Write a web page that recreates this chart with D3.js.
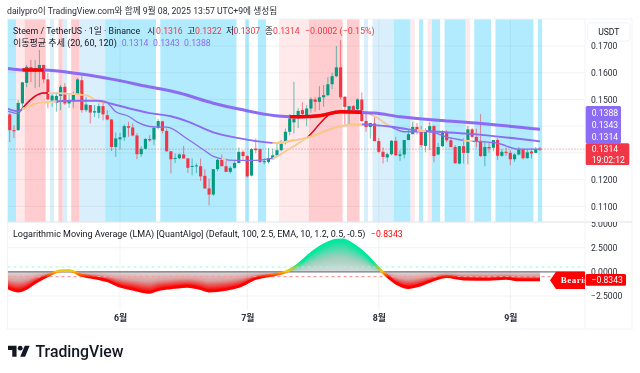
<!DOCTYPE html>
<html>
<head>
<meta charset="utf-8">
<script src="https://cdn.jsdelivr.net/npm/d3@7"></script>
<style>
  html, body { margin: 0; padding: 0; background: #fff; }
  svg { display: block; filter: blur(0.3px); }
  text { font-family: Roboto, "Noto Sans CJK KR", sans-serif; fill: #131722; }
  .axis text { font-size: 8.6px; fill: #2a2e39; }
</style>
</head>
<body>
<div id="chart"></div>
<script>
// daily candles, 6 May to 8 Sep 2025 (index 0 = 6 May)
const opens = [0.1444,0.1385,0.1385,0.1485,0.1562,0.1621,0.1603,0.1610,0.1629,0.1575,
  0.1491,0.1487,0.1513,0.1547,0.1485,0.1495,0.1520,0.1572,0.1460,0.1479,
  0.1451,0.1450,0.1475,0.1441,0.1425,0.1322,0.1351,0.1358,0.1400,0.1395,
  0.1365,0.1295,0.1315,0.1352,0.1350,0.1394,0.1418,0.1382,0.1306,0.1280,
  0.1280,0.1294,0.1279,0.1250,0.1251,0.1250,0.1214,0.1167,0.1144,0.1239,
  0.1274,0.1250,0.1229,0.1244,0.1262,0.1304,0.1288,0.1215,0.1316,0.1314,
  0.1265,0.1266,0.1276,0.1291,0.1310,0.1341,0.1379,0.1414,0.1429,0.1460,
  0.1433,0.1466,0.1500,0.1491,0.1508,0.1516,0.1557,0.1587,0.1620,0.1510,
  0.1450,0.1475,0.1463,0.1500,0.1419,0.1397,0.1410,0.1344,0.1304,0.1283,
  0.1295,0.1345,0.1289,0.1294,0.1348,0.1370,0.1397,0.1379,0.1326,0.1379,
  0.1400,0.1294,0.1325,0.1374,0.1347,0.1322,0.1260,0.1325,0.1300,0.1388,
  0.1360,0.1345,0.1288,0.1322,0.1319,0.1348,0.1289,0.1304,0.1300,0.1276,
  0.1294,0.1313,0.1280,0.1305,0.1300,0.1316];
const highs = [0.1449,0.1404,0.1498,0.1565,0.1629,0.1648,0.1648,0.1685,0.1629,0.1599,
  0.1524,0.1528,0.1554,0.1561,0.1524,0.1529,0.1580,0.1598,0.1510,0.1479,
  0.1479,0.1485,0.1491,0.1460,0.1426,0.1376,0.1375,0.1407,0.1416,0.1410,
  0.1373,0.1325,0.1355,0.1366,0.1400,0.1426,0.1420,0.1391,0.1306,0.1298,
  0.1298,0.1326,0.1281,0.1280,0.1261,0.1279,0.1239,0.1204,0.1239,0.1279,
  0.1294,0.1279,0.1250,0.1268,0.1320,0.1310,0.1291,0.1318,0.1354,0.1316,
  0.1280,0.1318,0.1316,0.1341,0.1348,0.1391,0.1445,0.1566,0.1467,0.1489,
  0.1479,0.1508,0.1508,0.1550,0.1554,0.1583,0.1600,0.1700,0.1722,0.1512,
  0.1475,0.1479,0.1505,0.1526,0.1454,0.1412,0.1434,0.1356,0.1320,0.1300,
  0.1348,0.1360,0.1310,0.1348,0.1388,0.1416,0.1412,0.1400,0.1393,0.1415,
  0.1404,0.1337,0.1385,0.1385,0.1359,0.1329,0.1325,0.1355,0.1400,0.1394,
  0.1391,0.1445,0.1345,0.1341,0.1348,0.1354,0.1314,0.1320,0.1310,0.1298,
  0.1322,0.1316,0.1313,0.1316,0.1322,0.1322];
const lows = [0.1340,0.1355,0.1383,0.1460,0.1546,0.1565,0.1542,0.1546,0.1561,0.1467,
  0.1472,0.1454,0.1460,0.1479,0.1467,0.1467,0.1520,0.1450,0.1453,0.1410,
  0.1434,0.1429,0.1422,0.1422,0.1307,0.1285,0.1313,0.1345,0.1360,0.1362,
  0.1276,0.1285,0.1313,0.1341,0.1329,0.1388,0.1373,0.1304,0.1223,0.1262,
  0.1276,0.1279,0.1225,0.1216,0.1224,0.1195,0.1166,0.1104,0.1139,0.1231,
  0.1250,0.1229,0.1223,0.1241,0.1262,0.1273,0.1208,0.1212,0.1298,0.1262,
  0.1257,0.1260,0.1276,0.1288,0.1306,0.1332,0.1366,0.1373,0.1393,0.1429,
  0.1400,0.1450,0.1454,0.1460,0.1472,0.1512,0.1538,0.1583,0.1500,0.1407,
  0.1407,0.1445,0.1460,0.1416,0.1379,0.1354,0.1344,0.1300,0.1260,0.1266,
  0.1291,0.1288,0.1270,0.1279,0.1348,0.1370,0.1369,0.1321,0.1302,0.1310,
  0.1265,0.1291,0.1321,0.1340,0.1321,0.1260,0.1257,0.1260,0.1257,0.1356,
  0.1320,0.1285,0.1250,0.1301,0.1306,0.1273,0.1285,0.1289,0.1254,0.1266,
  0.1291,0.1275,0.1279,0.1279,0.1298,0.1307];
const closes = [0.1385,0.1381,0.1487,0.1564,0.1622,0.1606,0.1617,0.1629,0.1575,0.1500,
  0.1514,0.1513,0.1547,0.1485,0.1495,0.1520,0.1575,0.1460,0.1481,0.1451,
  0.1456,0.1475,0.1444,0.1425,0.1322,0.1354,0.1358,0.1400,0.1394,0.1365,
  0.1295,0.1315,0.1352,0.1347,0.1394,0.1419,0.1382,0.1306,0.1276,0.1281,
  0.1294,0.1279,0.1244,0.1251,0.1253,0.1212,0.1167,0.1144,0.1239,0.1274,
  0.1250,0.1229,0.1244,0.1262,0.1304,0.1288,0.1212,0.1314,0.1310,0.1266,
  0.1269,0.1279,0.1291,0.1310,0.1341,0.1379,0.1429,0.1428,0.1457,0.1445,
  0.1466,0.1501,0.1491,0.1508,0.1516,0.1557,0.1587,0.1620,0.1508,0.1472,
  0.1475,0.1460,0.1500,0.1419,0.1397,0.1412,0.1344,0.1304,0.1285,0.1295,
  0.1345,0.1291,0.1294,0.1348,0.1370,0.1397,0.1379,0.1329,0.1385,0.1400,
  0.1288,0.1322,0.1375,0.1347,0.1322,0.1261,0.1325,0.1300,0.1388,0.1360,
  0.1344,0.1288,0.1322,0.1317,0.1348,0.1289,0.1304,0.1300,0.1276,0.1294,
  0.1313,0.1280,0.1302,0.1298,0.1314,0.1314];

// moving averages at these day indexes
const ma120Days = [-0.5,4,8,16,24,32,40,48,54,64,68.5,73,78,82,86,92,101,111,125];
const ma120Vals = [0.1616,0.1610,0.1610,0.1597,0.1576,0.1550,0.1524,0.1486,0.1464,0.1437,0.1435,0.1439,0.1454,0.1452,0.1449,0.1435,0.1422,0.1410,0.1388];
const ma60Days = [-0.5,2,3,6,9,16,21,24,28,33,38,42,48,54,63,67,70,77,82,86,90,94,99,108,125];
const ma60Vals = [0.1466,0.1456,0.1464,0.1483,0.1490,0.1495,0.1495,0.1484,0.1467,0.1449,0.1437,0.1417,0.1377,0.1355,0.1337,0.1347,0.1356,0.1396,0.1407,0.1404,0.1398,0.1388,0.1381,0.1372,0.1343];
const ma20Days = [-0.5,2,3,8,13,18,21,23,25,28,30,34,37,42,46,48,53,58,62,65,67,70,76,79,83,86,90,93,99,103,107,115,120,125];
const ma20Vals = [0.1456,0.1447,0.1467,0.1524,0.1522,0.1516,0.1492,0.1486,0.1454,0.1437,0.1416,0.1397,0.1396,0.1351,0.1308,0.1287,0.1272,0.1272,0.1280,0.1306,0.1325,0.1356,0.1449,0.1456,0.1456,0.1437,0.1396,0.1379,0.1379,0.1359,0.1347,0.1336,0.1314,0.1314];
// day spans where a line changes colour
const ma120Red = [[3,8],[66,83]];
const ma60Orange = [[3,11],[62,83],[96,98]];
const ma20Orange = [[9,23],[50,51],[62,70],[83,90],[107,109]];
const ma20Red = [[3,9],[70,83]];

// background state of each run of days: b blue, l pale blue, p pink, s pale pink, w white
const bandKinds = ["b","s","p","w","l","w","p","l","w","p","l","b","w","b","w","b","w","b","w","s","p","w","p","w","l","w","l","b","s","w","b","w","s","b","w","b","s","w","b","w","b","w","b"];
const bandDays = [2,2,5,1,1,1,1,1,1,2,6,12,1,18,2,1,2,2,3,7,8,1,3,1,1,1,5,4,1,1,1,1,1,2,1,5,1,1,4,1,9,1,1];
const bandColors = { b: "#b2ebfd", l: "#d9effc", p: "#ffcdd0", s: "#ffe9eb", w: "#ffffff" };

// LMA oscillator
const lmaDays = [-0.5,2,4,6,9,12,14,17,21,23,26,29,33,35,38,42,45,47,51,54,58,62,65,68,71,74,77,78.5,81,84,87,88,91,94,96,99,103,107,113,117,120,125];
const lmaVals = [-1.64,-1.98,-1.70,-1.10,-0.40,0.11,0.12,-0.36,-0.70,-0.92,-1.49,-1.78,-2.12,-1.83,-1.65,-1.49,-1.74,-1.98,-1.81,-1.50,-0.69,-0.33,-0.02,0.76,1.90,2.78,3.27,3.30,2.78,1.74,0.35,-0.07,-1.15,-1.62,-1.46,-0.98,-0.50,-0.74,-0.77,-0.67,-0.84,-0.8343];

const priceTicks = [0.11,0.12,0.15,0.16,0.17];
const priceGrid = [0.11,0.12,0.13,0.14,0.15,0.16,0.17];
const lmaTicks = [-2.5,0,2.5,5];
const monthDays = [26,56,87,118];
const monthLabels = ["6월","7월","8월","9월"];

const W = 640, H = 373;
const paneL = 7.5, paneR = 585, frameR = 632, frameT = 19, split = 222, axisB = 310, frameB = 329;
const RED = "#f23645", GREEN = "#089981", PURPLE = "#8b6cf2", ORANGE = "#ffc681", PURE_RED = "#ff0000";

const svg = d3.select("#chart").append("svg").attr("width", W).attr("height", H);
const defs = svg.append("defs");

const x = d3.scaleLinear().domain([0, 125]).range([9.7, 540]);
const yPrice = d3.scaleLinear().domain([0.11, 0.17]).range([206.3, 46]);
const yLma = d3.scaleLinear().domain([-2.5, 2.5]).range([296, 247.7]);
const step = x(1) - x(0);

defs.append("clipPath").attr("id", "mainClip").append("rect")
  .attr("x", paneL).attr("y", frameT).attr("width", paneR - paneL).attr("height", split - frameT);
defs.append("clipPath").attr("id", "lowClip").append("rect")
  .attr("x", paneL).attr("y", split).attr("width", paneR - paneL).attr("height", axisB - split);
defs.append("clipPath").attr("id", "tickClip").append("rect")
  .attr("x", paneR).attr("y", split).attr("width", 50).attr("height", axisB - split);

const main = svg.append("g").attr("clip-path", "url(#mainClip)");
const low = svg.append("g").attr("clip-path", "url(#lowClip)");

// background bands
let dayAt = 0;
bandKinds.forEach((k, i) => {
  const x0 = x(dayAt - 0.5), x1 = x(dayAt + bandDays[i] - 0.5);
  main.append("rect").attr("x", x0).attr("y", frameT).attr("width", x1 - x0)
    .attr("height", split - frameT).attr("fill", bandColors[k]);
  dayAt += bandDays[i];
});

// grid
const gridCol = "rgba(42,46,57,0.06)";
priceGrid.forEach(p => {
  main.append("line").attr("x1", paneL).attr("x2", paneR).attr("y1", yPrice(p)).attr("y2", yPrice(p)).attr("stroke", gridCol);
});
monthDays.forEach(d => {
  svg.append("line").attr("x1", x(d)).attr("x2", x(d)).attr("y1", frameT).attr("y2", axisB).attr("stroke", gridCol);
});
[-2.5, 2.5].forEach(v => {
  low.append("line").attr("x1", paneL).attr("x2", paneR).attr("y1", yLma(v)).attr("y2", yLma(v)).attr("stroke", "#f0f3fa");
});

// frame and pane separators
svg.append("rect").attr("x", paneL).attr("y", frameT).attr("width", frameR - paneL).attr("height", frameB - frameT)
  .attr("fill", "none").attr("stroke", "#f0f3fa");
svg.append("line").attr("x1", paneL).attr("x2", frameR).attr("y1", split).attr("y2", split).attr("stroke", "#e0e3eb");
svg.append("line").attr("x1", paneR).attr("x2", paneR).attr("y1", frameT).attr("y2", frameB).attr("stroke", "#f0f3fa");

// last price line
main.append("line").attr("x1", paneL).attr("x2", paneR).attr("y1", yPrice(closes[125])).attr("y2", yPrice(closes[125]))
  .attr("stroke", RED).attr("stroke-opacity", 0.7).attr("stroke-dasharray", "1 2");

// candles
const candles = main.append("g");
opens.forEach((o, i) => {
  const c = closes[i], col = c >= o ? GREEN : RED;
  candles.append("line").attr("x1", x(i)).attr("x2", x(i)).attr("y1", yPrice(highs[i])).attr("y2", yPrice(lows[i]))
    .attr("stroke", col).attr("stroke-opacity", 0.6);
  candles.append("rect").attr("x", x(i) - step * 0.37).attr("width", step * 0.74)
    .attr("y", yPrice(Math.max(o, c))).attr("height", Math.max(1, Math.abs(yPrice(o) - yPrice(c)))).attr("fill", col);
});

// moving averages
function maLine(days, vals) {
  return d3.line().x(d => x(days[d])).y(d => yPrice(vals[d])).curve(d3.curveMonotoneX)(d3.range(days.length));
}
let clipId = 0;
function drawMa(days, vals, color, width, spans) {
  const path = maLine(days, vals);
  if (!spans) {
    main.append("path").attr("d", path).attr("fill", "none").attr("stroke", color).attr("stroke-width", width);
    return;
  }
  spans.forEach(s => {
    const id = "span" + (clipId++);
    defs.append("clipPath").attr("id", id).append("rect")
      .attr("x", x(s[0])).attr("width", x(s[1]) - x(s[0])).attr("y", frameT).attr("height", split - frameT);
    main.append("g").attr("clip-path", "url(#" + id + ")").append("path").attr("d", path)
      .attr("fill", "none").attr("stroke", color).attr("stroke-width", width);
  });
}
drawMa(ma20Days, ma20Vals, PURPLE, 1.3);
drawMa(ma20Days, ma20Vals, "#fff", 1.6, ma20Orange);
drawMa(ma20Days, ma20Vals, ORANGE, 1.5, ma20Orange);
drawMa(ma20Days, ma20Vals, PURE_RED, 1.4, ma20Red);
drawMa(ma60Days, ma60Vals, PURPLE, 1.9);
drawMa(ma60Days, ma60Vals, "#fff", 2, ma60Orange);
drawMa(ma60Days, ma60Vals, ORANGE, 1.9, ma60Orange);
drawMa(ma120Days, ma120Vals, PURPLE, 3);
drawMa(ma120Days, ma120Vals, PURE_RED, 3.4, ma120Red);

// lower pane: layered fill between zero and the curve
const redFade = d3.scaleLinear().domain([0, 0.5, 1]).range(["#dcdcdc", "#d8a0a0", "#ff0000"]);
const greenFade = d3.scaleLinear().domain([0, 0.5, 1]).range(["#dcdcdc", "#9cd0bd", "#00e89c"]);
d3.range(20, 0, -1).map(n => n / 20).forEach(k => {
  const band = d3.area().x(d => x(lmaDays[d])).y0(yLma(0)).curve(d3.curveMonotoneX);
  low.append("path").attr("fill", redFade(k))
    .attr("d", band.y1(d => yLma(Math.min(lmaVals[d], 0) * k))(d3.range(lmaDays.length)));
  low.append("path").attr("fill", greenFade(k))
    .attr("d", band.y1(d => yLma(Math.max(lmaVals[d], 0) * k))(d3.range(lmaDays.length)));
});

// threshold and zero lines
low.append("line").attr("x1", paneL).attr("x2", paneR).attr("y1", yLma(0.5)).attr("y2", yLma(0.5))
  .attr("stroke", "#a5f5dc").attr("stroke-width", 1.2).attr("stroke-dasharray", "3 3");
low.append("line").attr("x1", paneL).attr("x2", paneR).attr("y1", yLma(-0.5)).attr("y2", yLma(-0.5))
  .attr("stroke", "#ff9a9a").attr("stroke-width", 1.2).attr("stroke-dasharray", "3 3");
low.append("line").attr("x1", paneL).attr("x2", paneR).attr("y1", yLma(0)).attr("y2", yLma(0))
  .attr("stroke", "#787b86").attr("stroke-width", 1.2);

// curve colour goes by value
const lineGrad = defs.append("linearGradient").attr("id", "lmaStroke").attr("gradientUnits", "userSpaceOnUse")
  .attr("x1", 0).attr("x2", 0).attr("y1", yLma(1)).attr("y2", yLma(-0.6));
lineGrad.append("stop").attr("offset", "0%").attr("stop-color", "#00e89c");
lineGrad.append("stop").attr("offset", "60%").attr("stop-color", "#ffc400");
lineGrad.append("stop").attr("offset", "100%").attr("stop-color", PURE_RED);
low.append("path").attr("fill", "none").attr("stroke", "url(#lmaStroke)").attr("stroke-width", 2.8)
  .attr("d", d3.line().x(d => x(lmaDays[d])).y(d => yLma(lmaVals[d])).curve(d3.curveMonotoneX)(d3.range(lmaDays.length)));

// axes
svg.append("g").attr("class", "axis").attr("transform", "translate(" + (paneR + 1) + ",0)")
  .call(d3.axisRight(yPrice).tickValues(priceTicks).tickSize(0).tickPadding(5).tickFormat(d3.format(".4f")))
  .call(g => g.select(".domain").remove());
svg.append("g").attr("clip-path", "url(#tickClip)").append("g").attr("class", "axis").attr("transform", "translate(" + (paneR + 1) + ",0)")
  .call(d3.axisRight(yLma).tickValues(lmaTicks).tickSize(0).tickPadding(5).tickFormat(d3.format(".4f")))
  .call(g => g.select(".domain").remove());
svg.append("g").attr("class", "axis").attr("transform", "translate(0,315)")
  .call(d3.axisBottom(x).tickValues(monthDays).tickSize(0).tickPadding(0).tickFormat((d, i) => monthLabels[i]))
  .call(g => g.select(".domain").remove())
  .call(g => g.selectAll("text").style("font-weight", 700).style("font-size", "8.8px"));

function label(s, px, py, size, fill, extra) {
  const t = svg.append("text").attr("x", px).attr("y", py).attr("font-size", size).style("fill", fill).text(s);
  if (extra) extra(t);
  return t;
}

// price tags
svg.append("rect").attr("x", paneR + 0.7).attr("y", 106).attr("width", 35.3).attr("height", 37.5).attr("rx", 1.5).attr("fill", PURPLE);
svg.append("rect").attr("x", paneR + 0.7).attr("y", 143.3).attr("width", 43.6).attr("height", 21.7).attr("rx", 1.5).attr("fill", RED);
[[ "0.1388", 115.7 ], [ "0.1343", 128 ], [ "0.1314", 140.3 ], [ "0.1314", 152.3 ], [ "19:02:12", 163 ]].forEach(d => {
  label(d[0], 591.7, d[1], 8.6, "#fff");
});

// USDT box
svg.append("rect").attr("x", 587.7).attr("y", 22.7).attr("width", 42.3).attr("height", 18.3).attr("rx", 3)
  .attr("fill", "#fff").attr("stroke", "#f0f3fa");
label("USDT", 608.8, 34.5, 8.6, "#131722", t => t.attr("text-anchor", "middle"));

// Bearish tag and lma value tag
const tag = svg.append("g").attr("clip-path", "url(#lowClip)");
tag.append("path").attr("fill", PURE_RED).attr("d", "M550,280.3L556,271.7H590V289H556Z");
tag.append("text").attr("x", 560.7).attr("y", 283.3)
  .attr("font-size", 9).style("font-family", "'Liberation Serif', serif").style("font-weight", 700).style("letter-spacing", "0.5px")
  .style("fill", "#fff").text("Bearish");
svg.append("rect").attr("x", paneR + 0.7).attr("y", 274).attr("width", 40.3).attr("height", 11.7).attr("rx", 1.5).attr("fill", PURE_RED);
label("−0.8343", 591.5, 283, 8.6, "#fff");

// header and legends
label("dailypro이 TradingView.com와 함께 9월 08, 2025 13:57 UTC+9에 생성됨", 7, 14, 8.7, "#2a2e39");
label("Steem / TetherUS · 1일 · Binance", 13, 33.5, 8.85, "#131722");
[["시", 147.3, "0.1316", 156], ["고", 187.3, "0.1322", 195], ["저", 226, "0.1307", 233.5], ["종", 265, "0.1314", 273]].forEach(d => {
  label(d[0], d[1], 33.5, 8.7, "#131722");
  label(d[2], d[3], 33.5, 8.7, RED);
});
label("−0.0002 (−0.15%)", 305, 33.5, 8.9, RED);
label("이동평균 추세 (20, 60, 120)", 13, 45.5, 9, "#131722");
label("0.1314", 121.7, 45.5, 8.7, PURPLE);
label("0.1343", 153, 45.5, 8.7, PURPLE);
label("0.1388", 184, 45.5, 8.7, PURPLE);
label("Logarithmic Moving Average (LMA) [QuantAlgo] (Default, 100, 2.5, EMA, 10, 1.2, 0.5, -0.5)", 13, 237, 9, "#131722");
label("−0.8343", 371, 237, 8.7, PURE_RED);

// logo
const logo = svg.append("g").attr("transform", "translate(8,343.3) scale(0.61)").attr("fill", "#131722");
logo.append("path").attr("d", "M14 22H7V11H0V4h14v18zM28 22h-8l7.5-18h8L28 22z");
logo.append("circle").attr("cx", 20).attr("cy", 8).attr("r", 4);
label("TradingView", 35.5, 356.5, 15.8, "#131722", t => t.style("font-weight", 500));
</script>
</body>
</html>
